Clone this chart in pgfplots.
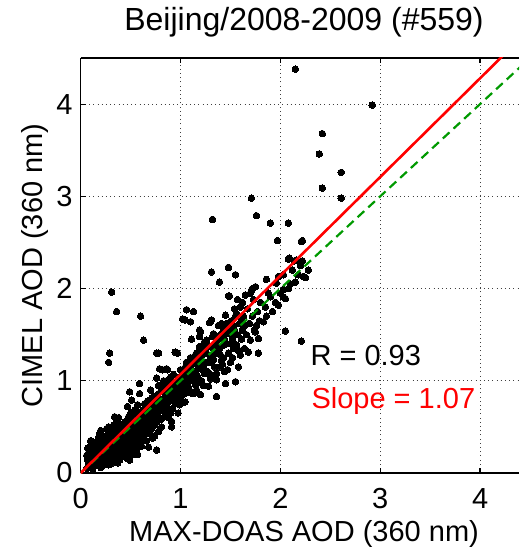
\documentclass[border=0pt]{standalone}
\usepackage{pgfplots}
\pgfplotsset{compat=1.18}
\usepackage{fontspec}
\setmainfont{Liberation Sans}
\definecolor{mgreen}{rgb}{0,0.6,0}
\begin{document}
\begin{tikzpicture}
\begin{axis}[
  scale only axis, width=438.3bp, height=415bp,
  xmin=0, xmax=4.39, ymin=0, ymax=4.5,
  axis x line*=box, axis y line*=left,
  x axis line style={-}, y axis line style={-},
  xtick={0,1,2,3,4}, ytick={0,1,2,3,4},
  /pgf/number format/assume math mode=true,
  tick label style={font=\fontsize{29bp}{33bp}\selectfont},
  xticklabel style={inner sep=0pt, anchor=north, yshift=-15bp},
  yticklabel style={inner sep=0pt, anchor=east, xshift=-8bp},
  tick align=inside, major tick length=5bp,
  every tick/.style={black, line width=1.2bp},
  axis line style={line width=1.4bp},
  grid=major,
  major grid style={black!75, line width=0.8bp, dash pattern=on 0.9bp off 3.3bp},
  title={Beijing/2008-2009 (\#559)},
  title style={font=\fontsize{32bp}{36bp}\selectfont, at={(axis description cs:0.5095,1)}, anchor=base, yshift=22bp, inner sep=0pt},
  xlabel={MAX-DOAS AOD (360 nm)},
  ylabel={CIMEL AOD (360 nm)},
  label style={font=\fontsize{29bp}{33bp}\selectfont, inner sep=0pt},
  xlabel style={at={(axis description cs:0.5095,-0.1639)}, anchor=base},
  ylabel style={at={(axis description cs:-0.0867,0.5)}, anchor=base, rotate=0},
  clip=true, clip marker paths=true,
]
\addplot[only marks, mark=*, mark size=3.3bp, mark options={fill=black, draw=black, line width=0pt}] coordinates {
(0.06,0.05)(0.08,0.10)(0.07,0.14)(0.10,0.06)(0.11,0.12)(0.09,0.18)(0.12,0.20)(0.13,0.09)(0.14,0.15)(0.08,0.22)(0.10,0.26)(0.12,0.28)(0.14,0.24)(0.15,0.11)(0.13,0.33)(0.11,0.31)(0.07,0.27)(0.15,0.19)(0.12,0.04)(0.09,0.08)(0.14,0.30)(0.10,0.35)(0.13,0.17)(0.06,0.19)
(0.16,0.08)(0.17,0.14)(0.18,0.21)(0.19,0.27)(0.20,0.12)(0.21,0.18)(0.22,0.25)(0.23,0.31)(0.24,0.09)(0.16,0.29)(0.17,0.34)(0.18,0.39)(0.19,0.43)(0.20,0.36)(0.21,0.30)(0.22,0.16)(0.23,0.22)(0.24,0.38)(0.25,0.27)(0.16,0.18)(0.18,0.10)(0.20,0.06)(0.22,0.40)(0.24,0.19)(0.19,0.23)(0.21,0.08)(0.17,0.25)(0.23,0.14)(0.25,0.33)(0.20,0.46)(0.18,0.31)(0.22,0.33)
(0.26,0.12)(0.27,0.19)(0.28,0.26)(0.29,0.33)(0.30,0.40)(0.31,0.15)(0.32,0.22)(0.33,0.29)(0.34,0.36)(0.35,0.43)(0.26,0.35)(0.27,0.42)(0.28,0.09)(0.29,0.17)(0.30,0.24)(0.31,0.31)(0.32,0.38)(0.33,0.45)(0.34,0.20)(0.35,0.27)(0.26,0.48)(0.28,0.50)(0.30,0.14)(0.32,0.11)(0.34,0.30)(0.27,0.28)(0.29,0.22)(0.31,0.37)(0.33,0.18)(0.35,0.34)(0.30,0.32)(0.26,0.23)(0.33,0.52)(0.35,0.16)
(0.36,0.25)(0.37,0.32)(0.38,0.39)(0.39,0.46)(0.40,0.53)(0.41,0.21)(0.42,0.28)(0.43,0.35)(0.44,0.42)(0.45,0.49)(0.36,0.58)(0.37,0.11)(0.38,0.18)(0.39,0.30)(0.40,0.37)(0.41,0.44)(0.42,0.51)(0.43,0.23)(0.44,0.30)(0.45,0.38)(0.38,0.60)(0.40,0.24)(0.42,0.43)(0.44,0.55)(0.36,0.40)(0.41,0.33)(0.43,0.47)(0.39,0.14)(0.45,0.27)(0.34,0.61)(0.40,0.45)(0.37,0.48)(0.42,0.19)(0.44,0.36)
(0.46,0.16)(0.47,0.26)(0.48,0.34)(0.49,0.42)(0.50,0.50)(0.51,0.58)(0.52,0.31)(0.53,0.39)(0.54,0.47)(0.55,0.55)(0.46,0.45)(0.47,0.53)(0.48,0.61)(0.49,0.22)(0.50,0.29)(0.51,0.37)(0.52,0.44)(0.53,0.63)(0.54,0.26)(0.55,0.34)(0.47,0.72)(0.49,0.88)(0.51,0.79)(0.48,0.40)(0.50,0.65)(0.53,0.20)(0.46,0.36)(0.52,0.52)(0.54,0.68)(0.55,0.44)(0.49,0.14)(0.51,0.48)
(0.56,0.40)(0.57,0.49)(0.58,0.57)(0.59,0.65)(0.60,0.30)(0.61,0.38)(0.62,0.46)(0.63,0.54)(0.64,0.62)(0.65,0.70)(0.56,0.25)(0.57,0.20)(0.58,0.33)(0.59,0.86)(0.59,0.97)(0.60,0.52)(0.61,0.60)(0.62,0.68)(0.63,0.41)(0.64,0.48)(0.65,0.56)(0.57,0.74)(0.60,0.44)(0.62,0.36)(0.64,0.75)(0.58,0.66)(0.61,0.29)(0.63,0.63)(0.65,0.43)(0.56,0.57)
(0.66,0.50)(0.67,0.58)(0.68,0.66)(0.69,0.74)(0.70,0.42)(0.71,0.81)(0.72,0.59)(0.73,0.67)(0.74,0.52)(0.75,0.75)(0.66,0.35)(0.68,0.45)(0.70,0.62)(0.72,0.70)(0.74,0.40)(0.67,0.78)(0.69,0.55)(0.71,0.48)(0.73,0.83)(0.75,0.60)(0.68,0.28)(0.72,0.38)(0.70,0.90)(0.74,0.68)
(0.76,0.25)(0.76,0.55)(0.77,0.64)(0.78,0.72)(0.79,0.80)(0.80,0.88)(0.81,0.50)(0.82,0.68)(0.83,0.76)(0.84,0.61)(0.85,0.84)(0.78,0.45)(0.80,0.70)(0.82,0.92)(0.84,0.75)(0.79,1.13)(0.82,1.12)(0.87,1.12)(0.76,1.03)(0.76,1.30)(0.78,0.95)(0.80,0.58)(0.83,1.00)(0.85,0.66)(0.77,0.85)
(0.86,0.72)(0.87,0.80)(0.88,0.88)(0.89,0.96)(0.90,0.65)(0.91,0.50)(0.92,0.82)(0.93,0.90)(0.94,0.98)(0.95,0.76)(0.86,1.13)(0.88,0.60)(0.90,1.04)(0.92,0.70)(0.94,0.85)(0.87,0.95)(0.89,0.78)(0.91,0.92)(0.93,1.07)(0.95,0.93)(0.86,1.00)(0.90,0.84)(0.91,0.56)
(0.96,0.80)(0.97,0.88)(0.975,0.65)(0.98,0.96)(0.99,1.04)(1.00,0.92)(1.01,1.00)(1.02,0.77)(1.03,1.08)(1.04,0.86)(1.045,0.77)(0.97,1.30)(0.98,0.85)(1.00,1.12)(1.02,0.94)(1.04,1.02)(0.96,0.98)(1.01,0.84)(1.03,0.95)(1.05,1.15)(0.99,0.74)(1.045,1.66)(1.06,1.77)(1.02,1.67)
(1.06,0.90)(1.07,0.98)(1.08,1.06)(1.09,1.14)(1.10,0.87)(1.11,0.88)(1.12,1.03)(1.13,0.86)(1.13,1.22)(1.14,1.10)(1.15,0.96)(1.06,1.20)(1.08,0.93)(1.10,1.25)(1.12,1.18)(1.14,1.02)(1.13,1.75)(1.10,1.64)(1.11,1.45)(1.07,1.10)(1.15,1.28)(1.09,1.00)
(1.16,0.90)(1.17,1.05)(1.18,1.13)(1.19,1.21)(1.19,1.55)(1.19,1.48)(1.19,1.37)(1.20,0.85)(1.20,1.53)(1.21,1.00)(1.22,1.28)(1.23,1.16)(1.24,1.08)(1.25,1.35)(1.16,1.30)(1.18,0.98)(1.20,1.24)(1.22,1.12)(1.24,1.42)(1.17,1.17)(1.21,1.33)(1.23,0.95)(1.25,1.20)
(1.26,1.44)(1.27,1.10)(1.28,0.94)(1.29,1.63)(1.30,1.64)(1.30,1.25)(1.31,1.21)(1.31,1.66)(1.32,1.36)(1.33,1.51)(1.34,1.15)(1.35,1.06)(1.26,1.30)(1.28,1.20)(1.30,1.02)(1.32,1.48)(1.34,1.30)(1.27,1.38)(1.29,1.08)(1.33,1.23)(1.35,1.40)
(1.36,1.01)(1.36,1.08)(1.36,0.83)(1.37,1.30)(1.38,1.45)(1.39,1.15)(1.40,1.50)(1.41,1.22)(1.42,1.38)(1.43,1.55)(1.44,1.10)(1.45,0.97)(1.45,1.71)(1.38,1.60)(1.40,1.28)(1.42,1.18)(1.44,1.45)(1.39,1.35)(1.41,1.62)(1.43,1.25)
(1.46,1.40)(1.47,1.52)(1.48,1.92)(1.49,1.92)(1.48,1.30)(1.49,1.58)(1.50,1.20)(1.51,1.65)(1.52,1.45)(1.53,1.35)(1.54,1.55)(1.55,0.99)(1.55,1.70)(1.48,2.23)(1.55,2.15)(1.46,1.62)(1.50,1.40)(1.52,1.25)(1.54,1.78)(1.47,1.12)(1.53,1.60)(1.51,1.50)
(1.56,1.73)(1.56,1.39)(1.57,1.50)(1.58,1.33)(1.58,1.15)(1.59,1.62)(1.60,1.80)(1.61,1.45)(1.62,1.55)(1.63,1.70)(1.64,1.35)(1.65,1.93)(1.60,1.28)(1.62,1.85)(1.64,1.60)(1.57,1.88)(1.61,1.65)
(1.66,1.50)(1.68,1.31)(1.70,1.44)(1.71,1.98)(1.72,1.70)(1.74,1.55)(1.75,1.53)(1.75,2.02)(1.76,1.60)(1.78,1.46)(1.78,1.30)(1.80,1.85)(1.67,1.78)(1.69,1.62)(1.73,1.88)(1.77,1.75)(1.79,1.65)(1.70,1.95)(1.72,2.00)
(1.83,1.64)(1.85,1.80)(1.88,1.95)(1.90,1.91)(1.92,1.75)(1.96,2.06)(1.95,1.85)(2.00,1.95)(2.03,2.15)(2.03,1.91)(2.05,1.89)(2.05,1.54)(2.08,2.00)(2.09,2.33)(2.10,2.05)(2.12,2.20)(2.15,2.07)(2.18,2.15)(2.21,1.43)(2.20,2.25)(2.25,2.12)(2.28,2.20)(1.86,1.70)(1.98,1.82)(2.14,2.30)(2.22,2.30)(1.86,2.10)(1.98,2.13)(2.03,1.99)(2.16,2.31)(2.23,2.13)
(0.31,1.96)(0.36,1.75)(0.60,1.70)(0.63,1.44)(0.29,1.30)(0.28,1.20)(0.78,1.30)(0.945,1.31)(1.31,2.18)(1.39,2.07)(1.32,2.75)(1.71,2.98)(1.76,2.79)(1.90,2.71)(2.08,2.71)(1.97,2.52)(2.21,2.51)(2.08,2.32)
(2.15,4.38)(2.92,3.99)(2.42,3.68)(2.39,3.46)(2.61,3.26)(2.42,3.09)(2.61,2.98)(2.22,2.52)
};
\addplot[mgreen, line width=2.2bp, dash pattern=on 9bp off 5.5bp] coordinates {(0,0)(4.5,4.5)};
\addplot[red, line width=2.6bp] coordinates {(0,0)(4.5,4.815)};
\node[anchor=base west, inner sep=0pt, font=\fontsize{29bp}{33bp}\selectfont] at (axis cs:2.30,1.17) {R = 0.93};
\node[anchor=base west, inner sep=0pt, text=red, font=\fontsize{29bp}{33bp}\selectfont] at (axis cs:2.31,0.70) {Slope = 1.07};
\end{axis}
\path (current axis.south west) +(-80.7bp,-79bp) +(438.3bp,473bp);
\end{tikzpicture}
\end{document}
